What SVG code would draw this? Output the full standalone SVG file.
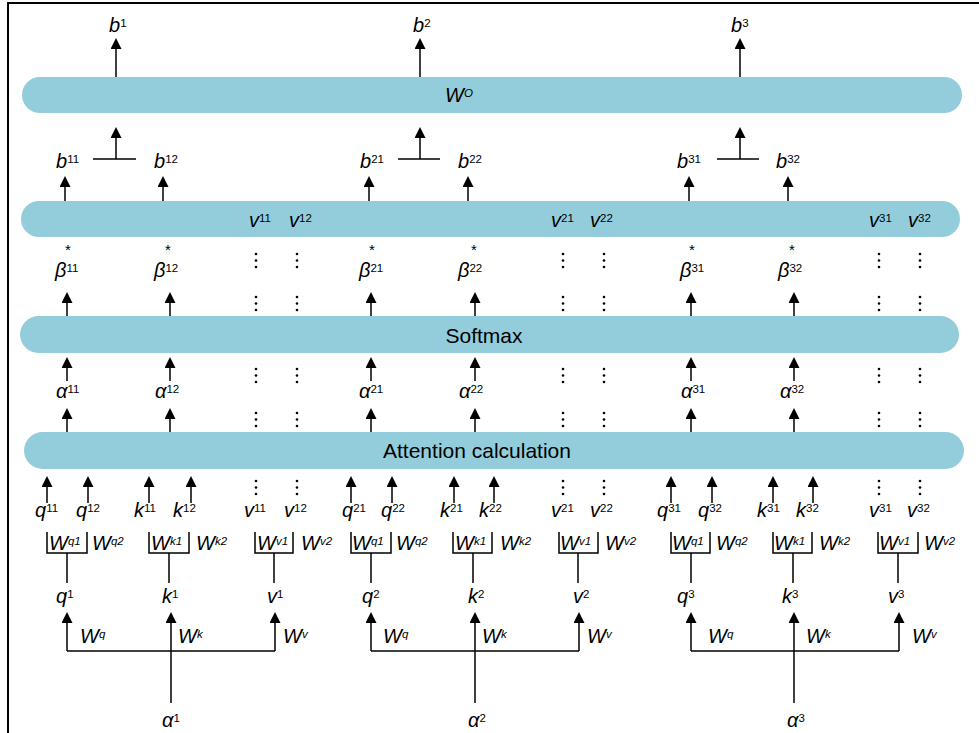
<svg xmlns="http://www.w3.org/2000/svg" width="979" height="733" viewBox="0 0 979 733">
<style>
.bar{fill:#93CDDB}
.m{font-family:"Liberation Sans",Arial,sans-serif;font-style:italic;font-size:20px;fill:#000}
.w{font-family:"Liberation Sans",Arial,sans-serif;font-style:italic;font-size:20px;fill:#000}
.s{font-size:11.5px;font-style:normal}
.ws{font-size:11.5px;font-style:italic}
.t{font-family:"Liberation Sans",Arial,sans-serif;font-size:21px;fill:#000;text-anchor:middle}
.st{font-family:"Liberation Sans",Arial,sans-serif;font-size:15px;fill:#000;text-anchor:middle}
.ln{stroke:#000;stroke-width:1.5;fill:none}
.ar{stroke:#000;stroke-width:1.5;fill:none;marker-end:url(#ah)}
.d{fill:#000}
</style>
<defs>
<marker id="ah" markerUnits="userSpaceOnUse" markerWidth="11" markerHeight="11" viewBox="0 0 11 11" refX="1" refY="5.5" orient="auto">
<path d="M0,0 L11,5.5 L0,11 z" fill="#000"/>
</marker>
<g id="dots"><circle cx="0" cy="1" r="1.3"/><circle cx="0" cy="7.5" r="1.3"/><circle cx="0" cy="14" r="1.3"/></g>
</defs>
<rect x="0" y="0" width="979" height="733" fill="#fff"/>
<rect x="8" y="3" width="1000" height="800" fill="none" stroke="#000" stroke-width="2"/>

<g id="bar-wo"><rect class="bar" x="22" y="77" width="940" height="36" rx="18"/><text class="w" x="445" y="102">W<tspan class="ws" dy="-5" font-style="normal">O</tspan></text></g>
<g id="bar-v"><rect class="bar" x="21" y="201" width="939" height="36" rx="18"/></g>
<g id="bar-softmax"><rect class="bar" x="20" y="316" width="939" height="37" rx="18.5"/><text class="t" x="484" y="343">Softmax</text></g>
<g id="bar-attention"><rect class="bar" x="24" y="432" width="940" height="37" rx="18.5"/><text class="t" x="477" y="458">Attention calculation</text></g>

<g id="connectors">
<line class="ar" x1="116" y1="77" x2="116" y2="48"/>
<line class="ar" x1="420" y1="77" x2="420" y2="48"/>
<line class="ar" x1="740" y1="77" x2="740" y2="48"/>
<line class="ln" x1="93" y1="159" x2="136" y2="159"/><line class="ar" x1="116" y1="159" x2="116" y2="137"/>
<line class="ln" x1="398" y1="159" x2="440" y2="159"/><line class="ar" x1="420" y1="159" x2="420" y2="137"/>
<line class="ln" x1="717" y1="159" x2="759" y2="159"/><line class="ar" x1="740" y1="159" x2="740" y2="137"/>
<line class="ar" x1="65" y1="201" x2="65" y2="186"/>
<line class="ar" x1="163" y1="201" x2="163" y2="186"/>
<line class="ar" x1="369" y1="201" x2="369" y2="186"/>
<line class="ar" x1="468" y1="201" x2="468" y2="186"/>
<line class="ar" x1="689" y1="201" x2="689" y2="186"/>
<line class="ar" x1="788" y1="201" x2="788" y2="186"/>
<line class="ar" x1="67" y1="316" x2="67" y2="302"/>
<line class="ar" x1="170" y1="316" x2="170" y2="302"/>
<line class="ar" x1="371" y1="316" x2="371" y2="302"/>
<line class="ar" x1="475" y1="316" x2="475" y2="302"/>
<line class="ar" x1="691" y1="316" x2="691" y2="302"/>
<line class="ar" x1="794" y1="316" x2="794" y2="302"/>
<line class="ar" x1="67" y1="381" x2="67" y2="367"/>
<line class="ar" x1="170" y1="381" x2="170" y2="367"/>
<line class="ar" x1="371" y1="381" x2="371" y2="367"/>
<line class="ar" x1="475" y1="381" x2="475" y2="367"/>
<line class="ar" x1="691" y1="381" x2="691" y2="367"/>
<line class="ar" x1="794" y1="381" x2="794" y2="367"/>
<line class="ar" x1="67" y1="432" x2="67" y2="418"/>
<line class="ar" x1="170" y1="432" x2="170" y2="418"/>
<line class="ar" x1="371" y1="432" x2="371" y2="418"/>
<line class="ar" x1="475" y1="432" x2="475" y2="418"/>
<line class="ar" x1="691" y1="432" x2="691" y2="418"/>
<line class="ar" x1="794" y1="432" x2="794" y2="418"/>
<line class="ar" x1="47" y1="503" x2="47" y2="486"/>
<line class="ar" x1="88" y1="503" x2="88" y2="486"/>
<line class="ar" x1="149" y1="503" x2="149" y2="486"/>
<line class="ar" x1="191" y1="503" x2="191" y2="486"/>
<line class="ar" x1="351" y1="503" x2="351" y2="486"/>
<line class="ar" x1="392" y1="503" x2="392" y2="486"/>
<line class="ar" x1="454" y1="503" x2="454" y2="486"/>
<line class="ar" x1="494" y1="503" x2="494" y2="486"/>
<line class="ar" x1="671" y1="503" x2="671" y2="486"/>
<line class="ar" x1="712" y1="503" x2="712" y2="486"/>
<line class="ar" x1="773" y1="503" x2="773" y2="486"/>
<line class="ar" x1="813" y1="503" x2="813" y2="486"/>
<line class="ln" x1="67" y1="553" x2="67" y2="583"/>
<line class="ln" x1="169" y1="553" x2="169" y2="583"/>
<line class="ln" x1="274" y1="553" x2="274" y2="583"/>
<line class="ln" x1="371" y1="553" x2="371" y2="583"/>
<line class="ln" x1="473" y1="553" x2="473" y2="583"/>
<line class="ln" x1="578" y1="553" x2="578" y2="583"/>
<line class="ln" x1="691" y1="553" x2="691" y2="583"/>
<line class="ln" x1="793" y1="553" x2="793" y2="583"/>
<line class="ln" x1="898" y1="553" x2="898" y2="583"/>
<path class="ln" d="M67,651 H275"/>
<line class="ar" x1="67" y1="651" x2="67" y2="622"/>
<line class="ar" x1="171" y1="703" x2="171" y2="622"/>
<line class="ar" x1="275" y1="651" x2="275" y2="622"/>
<path class="ln" d="M371,651 H579"/>
<line class="ar" x1="371" y1="651" x2="371" y2="622"/>
<line class="ar" x1="475" y1="703" x2="475" y2="622"/>
<line class="ar" x1="579" y1="651" x2="579" y2="622"/>
<path class="ln" d="M691,651 H899"/>
<line class="ar" x1="691" y1="651" x2="691" y2="622"/>
<line class="ar" x1="794" y1="703" x2="794" y2="622"/>
<line class="ar" x1="899" y1="651" x2="899" y2="622"/>
</g>

<g id="brackets" class="ln">
<path d="M47,532 V553 H87 V532"/>
<path d="M149,532 V553 H189 V532"/>
<path d="M255,532 V553 H293 V532"/>
<path d="M351,532 V553 H391 V532"/>
<path d="M453,532 V553 H492 V532"/>
<path d="M559,532 V553 H598 V532"/>
<path d="M671,532 V553 H710 V532"/>
<path d="M773,532 V553 H812 V532"/>
<path d="M878,532 V553 H918 V532"/>
</g>

<g id="ellipses" class="d">
<use href="#dots" x="256" y="253"/><use href="#dots" x="297" y="253"/>
<use href="#dots" x="563" y="253"/><use href="#dots" x="604" y="253"/>
<use href="#dots" x="879" y="253"/><use href="#dots" x="920" y="253"/>
<use href="#dots" x="256" y="296"/><use href="#dots" x="297" y="296"/>
<use href="#dots" x="563" y="296"/><use href="#dots" x="604" y="296"/>
<use href="#dots" x="879" y="296"/><use href="#dots" x="920" y="296"/>
<use href="#dots" x="256" y="368"/><use href="#dots" x="297" y="368"/>
<use href="#dots" x="563" y="368"/><use href="#dots" x="604" y="368"/>
<use href="#dots" x="879" y="368"/><use href="#dots" x="920" y="368"/>
<use href="#dots" x="256" y="412"/><use href="#dots" x="297" y="412"/>
<use href="#dots" x="563" y="412"/><use href="#dots" x="604" y="412"/>
<use href="#dots" x="879" y="412"/><use href="#dots" x="920" y="412"/>
<use href="#dots" x="256" y="480"/><use href="#dots" x="297" y="480"/>
<use href="#dots" x="563" y="480"/><use href="#dots" x="604" y="480"/>
<use href="#dots" x="879" y="480"/><use href="#dots" x="920" y="480"/>
</g>

<g id="outputs">
<text class="m" x="109" y="32">b<tspan class="s" dy="-5">1</tspan></text>
<text class="m" x="413" y="32">b<tspan class="s" dy="-5">2</tspan></text>
<text class="m" x="731" y="32">b<tspan class="s" dy="-5">3</tspan></text>
</g>
<g id="head-outputs">
<text class="m" x="56" y="168">b<tspan class="s" dy="-5">11</tspan></text>
<text class="m" x="154" y="168">b<tspan class="s" dy="-5">12</tspan></text>
<text class="m" x="360" y="168">b<tspan class="s" dy="-5">21</tspan></text>
<text class="m" x="458" y="168">b<tspan class="s" dy="-5">22</tspan></text>
<text class="m" x="677" y="168">b<tspan class="s" dy="-5">31</tspan></text>
<text class="m" x="776" y="168">b<tspan class="s" dy="-5">32</tspan></text>
</g>
<g id="v-values">
<text class="m" x="249" y="227">v<tspan class="s" dy="-5">11</tspan></text>
<text class="m" x="289" y="227">v<tspan class="s" dy="-5">12</tspan></text>
<text class="m" x="551" y="227">v<tspan class="s" dy="-5">21</tspan></text>
<text class="m" x="590" y="227">v<tspan class="s" dy="-5">22</tspan></text>
<text class="m" x="869" y="227">v<tspan class="s" dy="-5">31</tspan></text>
<text class="m" x="908" y="227">v<tspan class="s" dy="-5">32</tspan></text>
</g>
<g id="stars">
<text class="st" x="68" y="255">*</text>
<text class="st" x="168" y="255">*</text>
<text class="st" x="372" y="255">*</text>
<text class="st" x="474" y="255">*</text>
<text class="st" x="692" y="255">*</text>
<text class="st" x="792" y="255">*</text>
</g>
<g id="betas">
<text class="m" x="55" y="277">β<tspan class="s" dy="-5">11</tspan></text>
<text class="m" x="154" y="277">β<tspan class="s" dy="-5">12</tspan></text>
<text class="m" x="359" y="277">β<tspan class="s" dy="-5">21</tspan></text>
<text class="m" x="458" y="277">β<tspan class="s" dy="-5">22</tspan></text>
<text class="m" x="680" y="277">β<tspan class="s" dy="-5">31</tspan></text>
<text class="m" x="778" y="277">β<tspan class="s" dy="-5">32</tspan></text>
</g>
<g id="alphas">
<text class="m" x="56" y="398">α<tspan class="s" dy="-5">11</tspan></text>
<text class="m" x="155" y="398">α<tspan class="s" dy="-5">12</tspan></text>
<text class="m" x="359" y="398">α<tspan class="s" dy="-5">21</tspan></text>
<text class="m" x="459" y="398">α<tspan class="s" dy="-5">22</tspan></text>
<text class="m" x="681" y="398">α<tspan class="s" dy="-5">31</tspan></text>
<text class="m" x="780" y="398">α<tspan class="s" dy="-5">32</tspan></text>
</g>
<g id="qkv-heads">
<text class="m" x="35" y="517">q<tspan class="s" dy="-5">11</tspan></text>
<text class="m" x="76" y="517">q<tspan class="s" dy="-5">12</tspan></text>
<text class="m" x="134" y="517">k<tspan class="s" dy="-5">11</tspan></text>
<text class="m" x="173" y="517">k<tspan class="s" dy="-5">12</tspan></text>
<text class="m" x="244" y="517">v<tspan class="s" dy="-5">11</tspan></text>
<text class="m" x="284" y="517">v<tspan class="s" dy="-5">12</tspan></text>
<text class="m" x="342" y="517">q<tspan class="s" dy="-5">21</tspan></text>
<text class="m" x="381" y="517">q<tspan class="s" dy="-5">22</tspan></text>
<text class="m" x="440" y="517">k<tspan class="s" dy="-5">21</tspan></text>
<text class="m" x="479" y="517">k<tspan class="s" dy="-5">22</tspan></text>
<text class="m" x="551" y="517">v<tspan class="s" dy="-5">21</tspan></text>
<text class="m" x="590" y="517">v<tspan class="s" dy="-5">22</tspan></text>
<text class="m" x="657" y="517">q<tspan class="s" dy="-5">31</tspan></text>
<text class="m" x="698" y="517">q<tspan class="s" dy="-5">32</tspan></text>
<text class="m" x="757" y="517">k<tspan class="s" dy="-5">31</tspan></text>
<text class="m" x="796" y="517">k<tspan class="s" dy="-5">32</tspan></text>
<text class="m" x="869" y="517">v<tspan class="s" dy="-5">31</tspan></text>
<text class="m" x="907" y="517">v<tspan class="s" dy="-5">32</tspan></text>
</g>
<g id="head-weights">
<text class="w" x="49" y="550">W<tspan class="ws" dy="-5">q1</tspan></text>
<text class="w" x="92" y="550">W<tspan class="ws" dy="-5">q2</tspan></text>
<text class="w" x="151" y="550">W<tspan class="ws" dy="-5">k1</tspan></text>
<text class="w" x="196" y="550">W<tspan class="ws" dy="-5">k2</tspan></text>
<text class="w" x="257" y="550">W<tspan class="ws" dy="-5">v1</tspan></text>
<text class="w" x="301" y="550">W<tspan class="ws" dy="-5">v2</tspan></text>
<text class="w" x="352" y="550">W<tspan class="ws" dy="-5">q1</tspan></text>
<text class="w" x="396" y="550">W<tspan class="ws" dy="-5">q2</tspan></text>
<text class="w" x="455" y="550">W<tspan class="ws" dy="-5">k1</tspan></text>
<text class="w" x="500" y="550">W<tspan class="ws" dy="-5">k2</tspan></text>
<text class="w" x="560" y="550">W<tspan class="ws" dy="-5">v1</tspan></text>
<text class="w" x="605" y="550">W<tspan class="ws" dy="-5">v2</tspan></text>
<text class="w" x="672" y="550">W<tspan class="ws" dy="-5">q1</tspan></text>
<text class="w" x="716" y="550">W<tspan class="ws" dy="-5">q2</tspan></text>
<text class="w" x="774" y="550">W<tspan class="ws" dy="-5">k1</tspan></text>
<text class="w" x="819" y="550">W<tspan class="ws" dy="-5">k2</tspan></text>
<text class="w" x="879" y="550">W<tspan class="ws" dy="-5">v1</tspan></text>
<text class="w" x="924" y="550">W<tspan class="ws" dy="-5">v2</tspan></text>
</g>
<g id="qkv">
<text class="m" x="56" y="603">q<tspan class="s" dy="-5">1</tspan></text>
<text class="m" x="162" y="603">k<tspan class="s" dy="-5">1</tspan></text>
<text class="m" x="267" y="603">v<tspan class="s" dy="-5">1</tspan></text>
<text class="m" x="362" y="603">q<tspan class="s" dy="-5">2</tspan></text>
<text class="m" x="468" y="603">k<tspan class="s" dy="-5">2</tspan></text>
<text class="m" x="573" y="603">v<tspan class="s" dy="-5">2</tspan></text>
<text class="m" x="677" y="603">q<tspan class="s" dy="-5">3</tspan></text>
<text class="m" x="782" y="603">k<tspan class="s" dy="-5">3</tspan></text>
<text class="m" x="888" y="603">v<tspan class="s" dy="-5">3</tspan></text>
</g>
<g id="weights">
<text class="w" x="80" y="643">W<tspan class="ws" dy="-5">q</tspan></text>
<text class="w" x="178" y="643">W<tspan class="ws" dy="-5">k</tspan></text>
<text class="w" x="283" y="643">W<tspan class="ws" dy="-5">v</tspan></text>
<text class="w" x="383" y="643">W<tspan class="ws" dy="-5">q</tspan></text>
<text class="w" x="482" y="643">W<tspan class="ws" dy="-5">k</tspan></text>
<text class="w" x="587" y="643">W<tspan class="ws" dy="-5">v</tspan></text>
<text class="w" x="708" y="643">W<tspan class="ws" dy="-5">q</tspan></text>
<text class="w" x="806" y="643">W<tspan class="ws" dy="-5">k</tspan></text>
<text class="w" x="912" y="643">W<tspan class="ws" dy="-5">v</tspan></text>
</g>
<g id="inputs">
<text class="m" x="162" y="727">α<tspan class="s" dy="-5">1</tspan></text>
<text class="m" x="468" y="727">α<tspan class="s" dy="-5">2</tspan></text>
<text class="m" x="787" y="727">α<tspan class="s" dy="-5">3</tspan></text>
</g>
</svg>
